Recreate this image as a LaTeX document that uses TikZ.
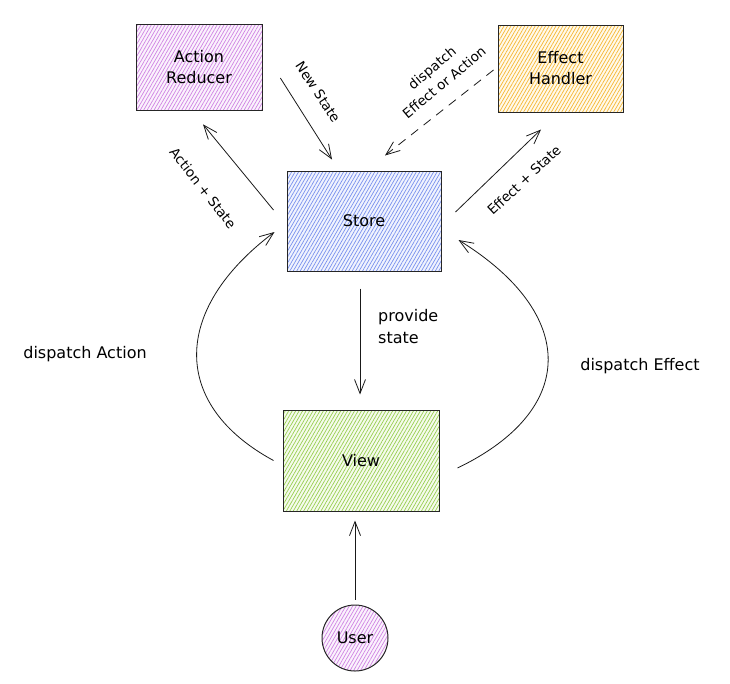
\documentclass[tikz,border=0pt]{standalone}
\usepackage{fontspec}
\setmainfont{DejaVu Sans}
\usetikzlibrary{arrows.meta,patterns.meta}
\definecolor{violetline}{HTML}{CF84E3}
\definecolor{violetfill}{HTML}{FBF2FD}
\definecolor{yellowline}{HTML}{F6B733}
\definecolor{yellowfill}{HTML}{FFF9EA}
\definecolor{blueline}{HTML}{7890EE}
\definecolor{bluefill}{HTML}{F0F3FE}
\definecolor{greenline}{HTML}{98CE50}
\definecolor{greenfill}{HTML}{F5FBEC}

\begin{document}
\begin{tikzpicture}[x=1pt,y=-1pt,
  font=\fontsize{16}{21}\selectfont,
  hatched/.style 2 args={draw=black!85,line width=1pt,preaction={fill=#2},
    pattern={Lines[angle=60,distance=3pt,line width=0.7pt]},pattern color=#1},
  box/.style={rectangle,minimum width=#1,inner sep=0pt,align=center},
  flow/.style={-{Straight Barb[length=14pt,width=11pt,line width=0.8pt]},line width=0.8pt,black!90},
  tag/.style={inner sep=1pt,align=center,font=\fontsize{13.5}{19}\selectfont}]
\useasboundingbox (0,0) rectangle (730,683);

\node[box=126pt,minimum height=86pt,hatched={violetline}{violetfill}] (reducer) at (199,67) {Action\\Reducer};
\node[box=125pt,minimum height=87pt,hatched={yellowline}{yellowfill}] (handler) at (560.5,68.5) {Effect\\Handler};
\node[box=154pt,minimum height=100pt,hatched={blueline}{bluefill}] (store) at (364,221) {Store};
\node[box=156pt,minimum height=101pt,hatched={greenline}{greenfill}] (view) at (361,460.5) {View};
\node[circle,minimum size=66pt,inner sep=0pt,hatched={violetline}{violetfill}] (user) at (355,638) {User};

\draw[flow] ([xshift=-13pt,yshift=11pt]store.west) -- ([xshift=4pt,yshift=-14pt]reducer.south);
\draw[flow] ([xshift=18pt,yshift=-11pt]reducer.east) -- ([xshift=-32pt,yshift=11pt]store.north);
\draw[flow,dash pattern=on 9pt off 7pt] ([xshift=-4pt,yshift=-1.5pt]handler.west) -- ([xshift=21pt,yshift=15pt]store.north);
\draw[flow] ([xshift=14pt,yshift=9pt]store.east) -- ([xshift=-19.5pt,yshift=-17pt]handler.south);
\draw[flow] ([xshift=-4pt,yshift=-17pt]store.south) -- ([xshift=-1pt,yshift=15pt]view.north);
\draw[flow] ([xshift=-9pt]view.west) .. controls (171,405) and (171,310) .. ([xshift=-12pt,yshift=-11pt]store.west);
\draw[flow] ([xshift=18pt,yshift=-7.5pt]view.east) .. controls (578,410) and (578,314) .. ([xshift=17pt,yshift=-19pt]store.east);
\draw[flow] ([yshift=5pt]user.north) -- ([xshift=-6pt,yshift=-9pt]view.south);

\node[tag,rotate=-52] (lblactstate) at (203,188) {Action + State};
\node[tag,rotate=-57] (lblnewstate) at (318,92) {New State};
\node[tag,rotate=40] (lbldispatch) at (438,75) {dispatch\\Effect or Action};
\node[tag,rotate=43] (lbleffstate) at (524,180) {Effect + State};
\node[tag,anchor=west,align=left,font=\fontsize{16}{22}\selectfont] (lblprovide) at (377,327) {provide\\state};
\node[tag,font=\fontsize{16}{21}\selectfont] (lbldispaction) at (85,354) {dispatch Action};
\node[tag,font=\fontsize{16}{21}\selectfont] (lbldispeffect) at (640,366) {dispatch Effect};
\end{tikzpicture}
\end{document}
